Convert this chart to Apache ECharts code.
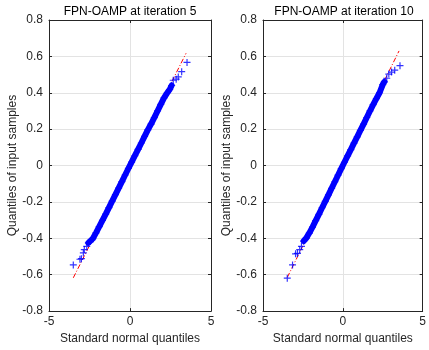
<!DOCTYPE html>
<html>
<head>
<meta charset="utf-8">
<script src="https://cdn.jsdelivr.net/npm/echarts@6/dist/echarts.min.js"></script>
<style>
  html, body { margin: 0; padding: 0; background: #fff; }
  #chart { width: 429px; height: 350px; }
</style>
</head>
<body>
<div id="chart"></div>
<script>
// QQ plots: x = standard normal quantile, y = sample quantile

const titles = ["FPN-OAMP at iteration 5", "FPN-OAMP at iteration 10"];
const xTicks = [-5, 0, 5];
const yTicks = [-0.8, -0.6, -0.4, -0.2, 0, 0.2, 0.4, 0.6, 0.8];

// iteration 5 - dense middle part of the band
const bandX5 = [-2.57, -2.45, -2.3, -2.1, -1.9, -1.7, -1.5, -1.3, -1.1, -0.9, -0.7, -0.5, -0.3, -0.1,
  0.1, 0.3, 0.5, 0.7, 0.9, 1.1, 1.3, 1.5, 1.7, 1.9, 2.1, 2.3, 2.45, 2.57];
const bandY5 = [-0.425, -0.418, -0.402, -0.37, -0.336, -0.301, -0.267, -0.231, -0.196, -0.16, -0.124, -0.088, -0.052, -0.016,
  0.019, 0.054, 0.089, 0.124, 0.16, 0.196, 0.228, 0.263, 0.3, 0.336, 0.372, 0.4, 0.418, 0.44];
// iteration 5 - sparse tails
const tailX5 = [-3.5, -3.09, -3.0, -2.88, -2.82, -2.67, 2.67, 2.85, 2.98, 3.19, 3.52];
const tailY5 = [-0.546, -0.515, -0.512, -0.48, -0.462, -0.444, 0.469, 0.475, 0.487, 0.516, 0.567];
// iteration 5 - reference line ends
const refX5 = [-3.5, 3.46];
const refY5 = [-0.617, 0.617];

// iteration 10
const bandX10 = [-2.45, -2.3, -2.1, -1.9, -1.7, -1.5, -1.3, -1.1, -0.9, -0.7, -0.5, -0.3, -0.1,
  0.1, 0.3, 0.5, 0.7, 0.9, 1.1, 1.3, 1.5, 1.7, 1.9, 2.1, 2.3, 2.5, 2.6];
const bandY10 = [-0.415, -0.4, -0.371, -0.338, -0.303, -0.268, -0.232, -0.197, -0.161, -0.125, -0.089, -0.053, -0.017,
  0.018, 0.053, 0.088, 0.123, 0.158, 0.193, 0.228, 0.264, 0.3, 0.335, 0.368, 0.4, 0.445, 0.46];
const tailX10 = [-3.48, -3.15, -2.96, -2.84, -2.7, -2.59, 2.75, 2.88, 3.05, 3.25, 3.58];
const tailY10 = [-0.619, -0.546, -0.485, -0.483, -0.462, -0.444, 0.48, 0.503, 0.514, 0.524, 0.549];
const refX10 = [-3.48, 3.52];
const refY10 = [-0.615, 0.63];

const INK = "#262626";
const GRIDC = "#e3e3e3";
const FONT = "Liberation Sans, Arial, sans-serif";
const PLUS = "path://M-1,-0.17L1,-0.17L1,0.17L-1,0.17Z M-0.17,-1L0.17,-1L0.17,1L-0.17,1Z";

const zip = (xs, ys) => xs.map((x, i) => [x, ys[i]]);
const fmtY = (v) => String(Math.round(v * 10) / 10);

const grids = [
  { left: 49, right: 218, top: 20, bottom: 32 },
  { left: 263, right: 4, top: 20, bottom: 32 },
];

function xAxes(gi) {
  return [
    {
      gridIndex: gi, type: "value", position: "bottom", min: -5, max: 5, interval: 5,
      name: "Standard normal quantiles", nameLocation: "middle", nameGap: 18,
      nameTextStyle: { color: INK, fontSize: 12, fontFamily: FONT },
      axisLine: { show: true, onZero: false, lineStyle: { color: INK, width: 1 } },
      axisTick: { show: true, inside: true, length: 3, lineStyle: { color: INK } },
      axisLabel: { color: INK, fontSize: 12, fontFamily: FONT, margin: 5 },
      splitLine: { show: true, lineStyle: { color: GRIDC, width: 1 } },
    },
    {
      gridIndex: gi, type: "value", position: "top", min: -5, max: 5, interval: 5,
      axisLine: { show: true, onZero: false, lineStyle: { color: INK, width: 1 } },
      axisTick: { show: true, inside: true, length: 3, lineStyle: { color: INK } },
      axisLabel: { show: false },
      splitLine: { show: false },
    },
  ];
}

function yAxes(gi) {
  return [
    {
      gridIndex: gi, type: "value", position: "left", min: -0.8, max: 0.8, interval: 0.2,
      name: "Quantiles of input samples", nameLocation: "middle", nameGap: 27,
      nameTextStyle: { color: INK, fontSize: 12, fontFamily: FONT },
      axisLine: { show: true, onZero: false, lineStyle: { color: INK, width: 1 } },
      axisTick: { show: true, inside: true, length: 3, lineStyle: { color: INK } },
      axisLabel: { color: INK, fontSize: 12, fontFamily: FONT, margin: 6, formatter: fmtY },
      splitLine: { show: true, lineStyle: { color: GRIDC, width: 1 } },
    },
    {
      gridIndex: gi, type: "value", position: "right", min: -0.8, max: 0.8, interval: 0.2,
      axisLine: { show: true, onZero: false, lineStyle: { color: INK, width: 1 } },
      axisTick: { show: true, inside: true, length: 3, lineStyle: { color: INK } },
      axisLabel: { show: false },
      splitLine: { show: false },
    },
  ];
}

function panelSeries(ai, bandX, bandY, tailX, tailY, refX, refY) {
  const band = zip(bandX, bandY);
  const all = zip(tailX, tailY).concat(band);
  return [
    {
      type: "line", xAxisIndex: ai, yAxisIndex: ai, data: zip(refX, refY),
      symbol: "none", silent: true, z: 2,
      lineStyle: { color: "#ff0000", width: 1, type: [5, 2, 1, 2] },
    },
    {
      type: "line", xAxisIndex: ai, yAxisIndex: ai, data: band,
      symbol: "none", silent: true, z: 3,
      lineStyle: { color: "#0000ff", width: 6, cap: "round", join: "round" },
    },
    {
      type: "scatter", xAxisIndex: ai, yAxisIndex: ai, data: all,
      symbol: PLUS, symbolSize: 7, silent: true, z: 4,
      itemStyle: { color: "#0000ff" },
    },
  ];
}

const chart = echarts.init(document.getElementById("chart"), null, { renderer: "canvas" });
chart.setOption({
  animation: false,
  backgroundColor: "#ffffff",
  title: [
    { text: titles[0], left: 130, top: 6, textAlign: "center", padding: 0,
      textStyle: { color: "#000", fontSize: 12, fontWeight: "normal", fontFamily: FONT } },
    { text: titles[1], left: 344, top: 6, textAlign: "center", padding: 0,
      textStyle: { color: "#000", fontSize: 12, fontWeight: "normal", fontFamily: FONT } },
  ],
  grid: grids,
  xAxis: xAxes(0).concat(xAxes(1)),
  yAxis: yAxes(0).concat(yAxes(1)),
  series: panelSeries(0, bandX5, bandY5, tailX5, tailY5, refX5, refY5)
    .concat(panelSeries(2, bandX10, bandY10, tailX10, tailY10, refX10, refY10)),
});
</script>
</body>
</html>
